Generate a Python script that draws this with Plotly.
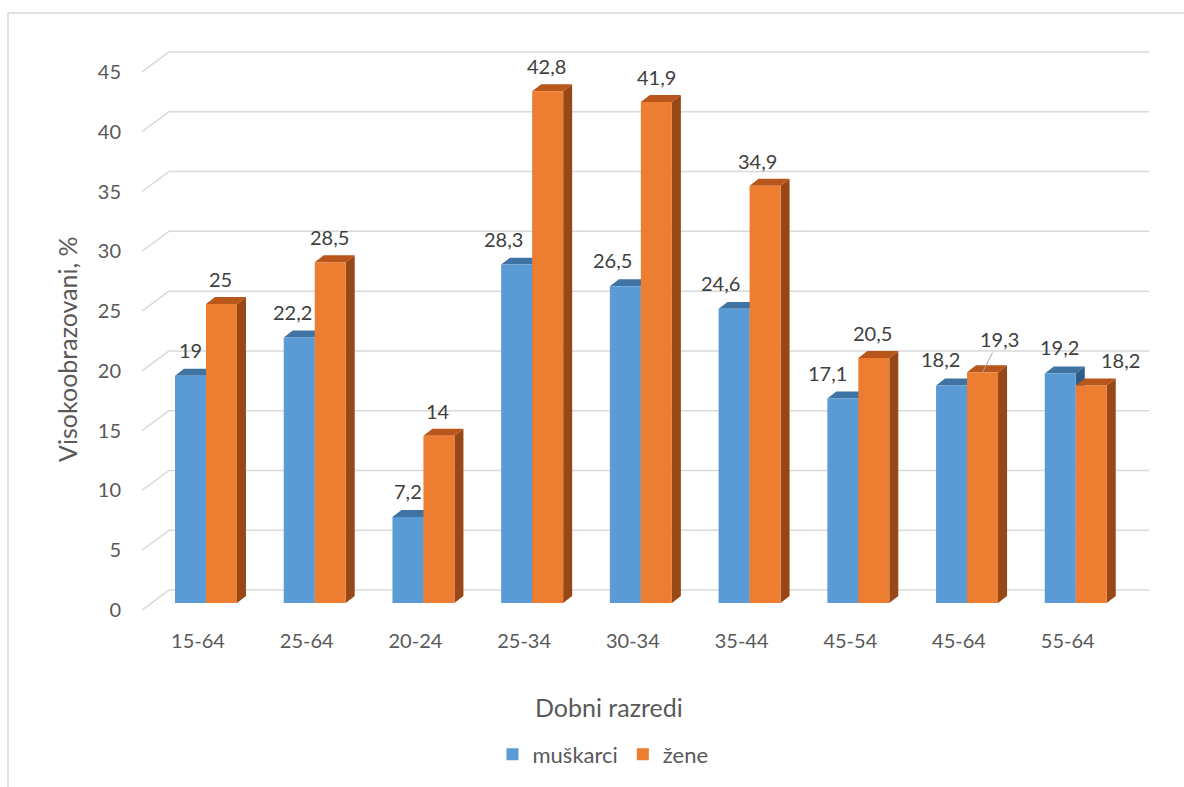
import plotly.graph_objects as go

# ---------------- data ----------------
categories = ["15-64", "25-64", "20-24", "25-34", "30-34", "35-44", "45-54", "45-64", "55-64"]
muskarci = [19, 22.2, 7.2, 28.3, 26.5, 24.6, 17.1, 18.2, 19.2]
zene = [25, 28.5, 14, 42.8, 41.9, 34.9, 20.5, 19.3, 18.2]
y_ticks = [0, 5, 10, 15, 20, 25, 30, 35, 40, 45]

# label nudges (px) to mimic the reference's label placement
blue_dx = [0, -7, 0, -13, -13, -14, -15, -11, -1]
orange_dx = [-1, -1, -1, -1, 0, -8, -1, 0, 29]

# ---------------- geometry (px) ----------------
W, H = 1184, 787
ML, MR, MT, MB = 130, 24, 40, 167
PW, PH = W - ML - MR, H - MT - MB
UX = 108.72          # px per category
UY = 12.0            # px per value unit
X0_PX = 206          # px of category 0 centre
Y0_PX = 605          # px of value 0 (bar front plane)
x_range = [(ML - X0_PX) / UX, (W - MR - X0_PX) / UX]
y_range = [(Y0_PX - (H - MB)) / UY, (Y0_PX - MT) / UY]

def dx(px):
    return px / UX

def dy(px):
    return px / UY

def paper_x(px):
    return (px - ML) / PW

def paper_y(px):
    return (H - MB - px) / PH

BLUE, ORANGE = "#5B9BD5", "#ED7D31"
BLUE_TOP, BLUE_SIDE = "#3F73A3", "#2E5C88"
ORANGE_TOP, ORANGE_SIDE = "#B9561B", "#984817"
GRID = "#D9D9D9"
TXT = "#595959"
LBL = "#404040"
FONT = "Lato"

BAR_W = 0.285
DEPTH_X, DEPTH_Y = dx(9), dy(7)

xs = list(range(len(categories)))

fig = go.Figure()
fig.add_trace(go.Bar(x=xs, y=muskarci, name="muškarci", marker=dict(color=BLUE, line=dict(width=0)),
                     hoverinfo="skip"))
fig.add_trace(go.Bar(x=xs, y=zene, name="žene", marker=dict(color=ORANGE, line=dict(width=0)),
                     hoverinfo="skip"))

shapes = []
# back-wall gridlines + diagonal floor lines
for v in y_ticks:
    shapes.append(dict(type="line", xref="x", yref="y", layer="below",
                       x0=dx(169 - X0_PX), x1=dx(1149 - X0_PX), y0=v + dy(13), y1=v + dy(13),
                       line=dict(color=GRID, width=1.5)))
    shapes.append(dict(type="line", xref="x", yref="y", layer="below",
                       x0=dx(142 - X0_PX), x1=dx(169 - X0_PX), y0=v - dy(7), y1=v + dy(13),
                       line=dict(color=GRID, width=1.5)))

def faces(xl, xr, v, top_col, side_col):
    top = (f"M{xl},{v} L{xr},{v} L{xr + DEPTH_X},{v + DEPTH_Y} L{xl + DEPTH_X},{v + DEPTH_Y} Z")
    side = (f"M{xr},0 L{xr},{v} L{xr + DEPTH_X},{v + DEPTH_Y} L{xr + DEPTH_X},{DEPTH_Y} Z")
    return [dict(type="path", xref="x", yref="y", layer="below", path=side,
                 fillcolor=side_col, line=dict(width=0)),
            dict(type="path", xref="x", yref="y", layer="below", path=top,
                 fillcolor=top_col, line=dict(width=0))]

for i in xs:
    shapes += faces(i - BAR_W, i, muskarci[i], BLUE_TOP, BLUE_SIDE)
for i in xs:
    shapes += faces(i, i + BAR_W, zene[i], ORANGE_TOP, ORANGE_SIDE)

# chart border (top + left)
shapes.append(dict(type="line", xref="paper", yref="paper", x0=paper_x(8), x1=paper_x(W + 5),
                   y0=paper_y(13), y1=paper_y(13), line=dict(color=GRID, width=1.5)))
shapes.append(dict(type="line", xref="paper", yref="paper", x0=paper_x(8), x1=paper_x(8),
                   y0=paper_y(13), y1=paper_y(H + 5), line=dict(color=GRID, width=1.5)))

def fmt(v):
    return (f"{v:g}").replace(".", ",")

LBL_FONT = dict(family=FONT, size=20, color=LBL)
annotations = []
for i in xs:
    annotations.append(dict(x=i - BAR_W / 2, y=muskarci[i], xref="x", yref="y", text=fmt(muskarci[i]),
                            showarrow=False, yshift=26, xshift=blue_dx[i], font=LBL_FONT,
                            xanchor="center", yanchor="middle"))
for i in xs:
    if categories[i] == "45-64":
        annotations.append(dict(x=i + BAR_W / 2, y=zene[i], xref="x", yref="y", text=fmt(zene[i]),
                                showarrow=True, arrowhead=0, arrowwidth=1, arrowcolor="#A6A6A6",
                                ax=17, ay=-33, standoff=0, font=LBL_FONT))
    else:
        annotations.append(dict(x=i + BAR_W / 2, y=zene[i], xref="x", yref="y", text=fmt(zene[i]),
                                showarrow=False, yshift=25, xshift=orange_dx[i], font=LBL_FONT,
                                xanchor="center", yanchor="middle"))

# axis titles
annotations.append(dict(x=paper_x(609), y=paper_y(709), xref="paper", yref="paper",
                        text="Dobni razredi", showarrow=False, xanchor="center", yanchor="middle",
                        font=dict(family=FONT, size=25, color=TXT)))
annotations.append(dict(x=paper_x(67), y=paper_y(350), xref="paper", yref="paper",
                        text="Visokoobrazovani, %", showarrow=False, textangle=-90,
                        xanchor="center", yanchor="middle",
                        font=dict(family=FONT, size=25, color=TXT)))

fig.update_layout(
    width=W, height=H,
    margin=dict(l=ML, r=MR, t=MT, b=MB),
    paper_bgcolor="white", plot_bgcolor="rgba(0,0,0,0)",
    barmode="group", bargap=0.43, bargroupgap=0,
    font=dict(family=FONT, color=TXT),
    shapes=shapes, annotations=annotations,
    showlegend=True,
    legend=dict(orientation="h", x=paper_x(603), xanchor="center", y=paper_y(757), yanchor="middle",
                font=dict(family=FONT, size=22, color=TXT), bgcolor="rgba(0,0,0,0)",
                itemclick=False, traceorder="normal", itemwidth=30),
    xaxis=dict(range=x_range, tickmode="array", tickvals=xs, ticktext=categories,
               showgrid=False, zeroline=False, showline=False, ticks="",
               tickfont=dict(family=FONT, size=20, color=TXT),
               ticklabelstandoff=9, ticklabelshift=-8, fixedrange=True),
    yaxis=dict(range=y_range, tickmode="array", tickvals=y_ticks, ticktext=[str(t) for t in y_ticks],
               showgrid=False, zeroline=False, showline=False, ticks="",
               tickfont=dict(family=FONT, size=20, color=TXT),
               ticklabelstandoff=8, ticklabelshift=7, fixedrange=True),
)

fig.write_html("out.html", config={"displayModeBar": False},
               post_script="document.body.style.margin='0';document.body.style.overflow='hidden';")
